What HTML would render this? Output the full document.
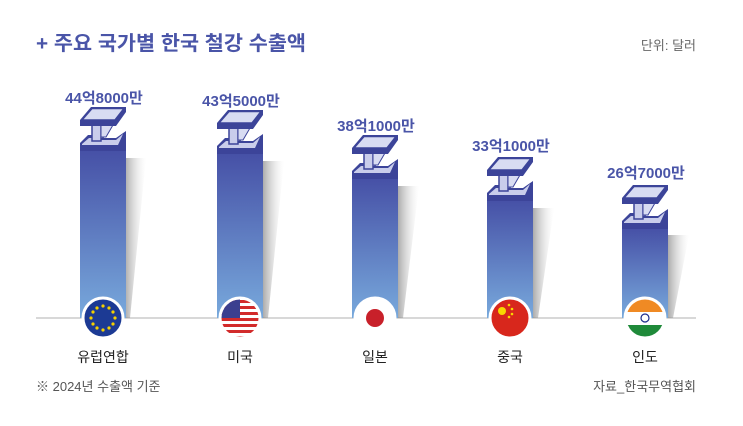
<!DOCTYPE html>
<html><head><meta charset="utf-8"><style>
body{margin:0;background:#fff;}
svg text{font-family:"Liberation Sans","Noto Sans CJK KR",sans-serif;}
</style></head><body>
<svg width="743" height="421" viewBox="0 0 743 421" xmlns="http://www.w3.org/2000/svg">
<defs>
<linearGradient id="bg" x1="0" y1="0" x2="0" y2="1">
<stop offset="0" stop-color="#4650a6"/><stop offset="1" stop-color="#78a9dc"/></linearGradient>
<linearGradient id="sh" x1="0" y1="0" x2="1" y2="0">
<stop offset="0" stop-color="#888" stop-opacity="0.7"/><stop offset="1" stop-color="#ddd" stop-opacity="0"/></linearGradient>
<g id="beam">
<polygon points="0,36 8,28 20,28 20,31 36,31 46,24 46,44 0,44" fill="#3c4499"/>
<polygon points="2,37 9,31 20,31 20,33 36,33 43,27 38,38 2,38" fill="#c9cdeb"/>
<rect x="12" y="16" width="9" height="18" fill="#c9cdeb" stroke="#3c4499" stroke-width="1.5"/>
<polygon points="21,18 33,18 26,30 21,30" fill="#d8dcf2" stroke="#3c4499" stroke-width="1"/>
<polygon points="11,0 46,0 46,5 36,19 0,19 0,13" fill="#3c4499"/>
<polygon points="12,1.5 44,1.5 35,13 2,13" fill="#d8dcf2" stroke="#3c4499" stroke-width="1.5"/>
<circle cx="23" cy="31" r="0.9" fill="#3c4499"/>
</g>
</defs>
<text x="36" y="50" font-size="20" font-weight="bold" fill="#4a55a8" textLength="270" lengthAdjust="spacingAndGlyphs">+ 주요 국가별 한국 철강 수출액</text>
<text x="696" y="50" font-size="13" fill="#666" text-anchor="end">단위: 달러</text>
<line x1="36" y1="318" x2="696" y2="318" stroke="#d8d8d8" stroke-width="2"/>
<g font-size="15" font-weight="bold" fill="#4a55a8" text-anchor="middle">
<text x="104" y="103">44억8000만</text>
<text x="241" y="106">43억5000만</text>
<text x="376" y="131">38억1000만</text>
<text x="511" y="151">33억1000만</text>
<text x="646" y="178">26억7000만</text>
</g>
<g>
<polygon points="125,158 146,158 130,318 125,318" fill="url(#sh)"/>
<rect x="80" y="150" width="46" height="168" fill="url(#bg)"/>
<use href="#beam" x="80" y="107"/>
<polygon points="263,161 284,161 268,318 263,318" fill="url(#sh)"/>
<rect x="217" y="153" width="46" height="165" fill="url(#bg)"/>
<use href="#beam" x="217" y="110"/>
<polygon points="398,186 419,186 403,318 398,318" fill="url(#sh)"/>
<rect x="352" y="178" width="46" height="140" fill="url(#bg)"/>
<use href="#beam" x="352" y="135"/>
<polygon points="533,208 554,208 538,318 533,318" fill="url(#sh)"/>
<rect x="487" y="200" width="46" height="118" fill="url(#bg)"/>
<use href="#beam" x="487" y="157"/>
<polygon points="668,235 689,235 673,318 668,318" fill="url(#sh)"/>
<rect x="622" y="228" width="46" height="90" fill="url(#bg)"/>
<use href="#beam" x="622" y="185"/>
</g>
<g stroke="#fff" stroke-width="3">
<circle cx="103" cy="318" r="20" fill="#1c3a94"/>
<circle cx="240" cy="318" r="20" fill="#fff"/>
<circle cx="375" cy="318" r="20" fill="#fff"/>
<circle cx="510" cy="318" r="20" fill="#d8271c"/>
<circle cx="645" cy="318" r="20" fill="#fff"/>
</g>
<g fill="#f5d000">
<circle cx="103" cy="306" r="1.6"/><circle cx="109" cy="308" r="1.6"/><circle cx="113" cy="312" r="1.6"/><circle cx="115" cy="318" r="1.6"/><circle cx="113" cy="324" r="1.6"/><circle cx="109" cy="328" r="1.6"/><circle cx="103" cy="330" r="1.6"/><circle cx="97" cy="328" r="1.6"/><circle cx="93" cy="324" r="1.6"/><circle cx="91" cy="318" r="1.6"/><circle cx="93" cy="312" r="1.6"/><circle cx="97" cy="308" r="1.6"/>
</g>
<clipPath id="cu"><circle cx="240" cy="318" r="18.5"/></clipPath>
<g clip-path="url(#cu)">
<rect x="220" y="299" width="40" height="40" fill="#fff"/>
<g fill="#d22b2b"><rect x="220" y="300" width="40" height="3"/><rect x="220" y="306" width="40" height="3"/><rect x="220" y="312" width="40" height="3"/><rect x="220" y="318" width="40" height="3"/><rect x="220" y="324" width="40" height="3"/><rect x="220" y="330" width="40" height="3"/><rect x="220" y="336" width="40" height="3"/></g>
<rect x="220" y="299" width="20" height="19" fill="#3b3f8f"/>
</g>
<circle cx="375" cy="318" r="9" fill="#c8202a"/>
<g fill="#f8d800"><circle cx="502" cy="311" r="4"/><circle cx="509" cy="305" r="1.3"/><circle cx="512" cy="309" r="1.3"/><circle cx="512" cy="314" r="1.3"/><circle cx="509" cy="317" r="1.3"/></g>
<clipPath id="ci"><circle cx="645" cy="318" r="18.5"/></clipPath>
<g clip-path="url(#ci)">
<rect x="625" y="299" width="40" height="13" fill="#f08a24"/>
<rect x="625" y="325" width="40" height="14" fill="#1f8a3a"/>
</g>
<circle cx="645" cy="318" r="4" fill="none" stroke="#1b2a8a" stroke-width="1.2"/>
<g font-size="14" fill="#222" text-anchor="middle">
<text x="103" y="362">유럽연합</text>
<text x="240" y="362">미국</text>
<text x="375" y="362">일본</text>
<text x="510" y="362">중국</text>
<text x="645" y="362">인도</text>
</g>
<text x="36" y="391" font-size="13" fill="#555">※ 2024년 수출액 기준</text>
<text x="696" y="391" font-size="13" fill="#555" text-anchor="end">자료_한국무역협회</text>
</svg>
</body></html>
